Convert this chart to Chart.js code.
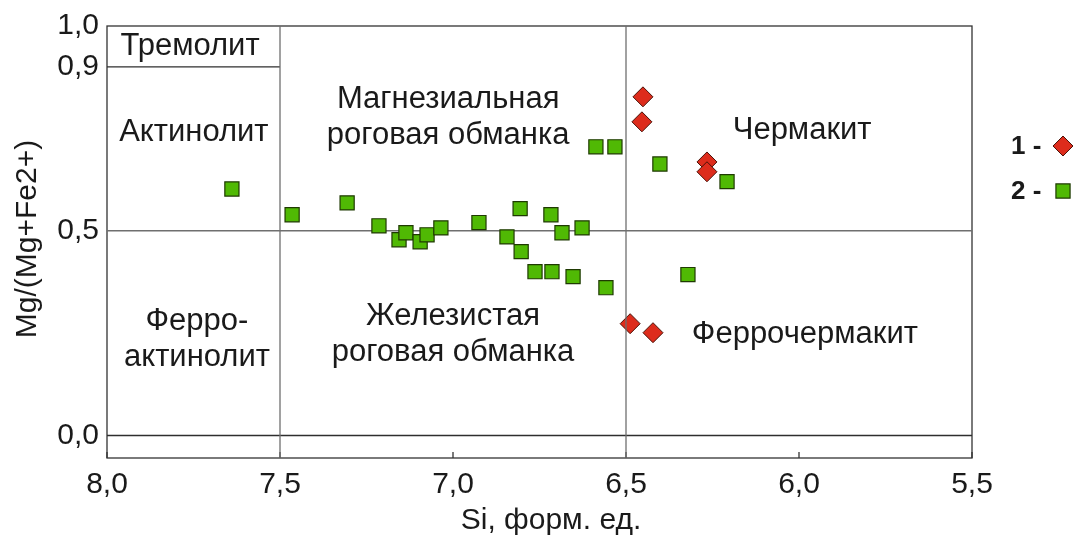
<!DOCTYPE html>
<html>
<head>
<meta charset="utf-8">
<script src="https://cdn.jsdelivr.net/npm/chart.js@4/dist/chart.umd.min.js"></script>
<style>
  html, body { margin: 0; padding: 0; background: #fff; }
  canvas { display: block; }
</style>
</head>
<body>
<canvas id="chart" width="1077" height="536"></canvas>
<script>
// series 1 (red diamonds)
const s1Si = [6.451, 6.454, 6.266, 6.266, 6.488, 6.422];
const s1Mg = [0.827, 0.766, 0.668, 0.644, 0.273, 0.251];

// series 2 (green squares)
const s2Si = [7.639, 7.465, 7.306, 7.214, 7.156, 7.136, 7.095, 7.075, 7.035, 6.925,
              6.844, 6.806, 6.803, 6.763, 6.717, 6.714, 6.685, 6.653, 6.627, 6.587,
              6.558, 6.532, 6.402, 6.321, 6.208];
const s2Mg = [0.602, 0.539, 0.568, 0.512, 0.478, 0.495, 0.473, 0.490, 0.507, 0.520,
              0.485, 0.554, 0.449, 0.400, 0.539, 0.400, 0.495, 0.388, 0.507, 0.705,
              0.361, 0.705, 0.663, 0.393, 0.620];

const xTicks = [8.0, 7.5, 7.0, 6.5, 6.0, 5.5];
const yTicks = [0.0, 0.5, 0.9, 1.0];
const X_MIN = 5.5, X_MAX = 8.0;
const Y_MIN = -0.055, Y_MAX = 1.0;

// field boundaries
const hLines = [
  [[8.0, 0.9], [7.5, 0.9]],
  [[8.0, 0.5], [5.5, 0.5]],
  [[8.0, 0.0], [5.5, 0.0]]
];
const vLines = [
  [[7.5, Y_MIN], [7.5, Y_MAX]],
  [[6.5, Y_MIN], [6.5, Y_MAX]]
];

// field names, anchored at Si / Mg# values
const fieldNames = [
  { x: 7.760, y: 0.949, lines: ['Тремолит'] },
  { x: 7.749, y: 0.741, lines: ['Актинолит'] },
  { x: 7.014, y: 0.776, lines: ['Магнезиальная', 'роговая обманка'] },
  { x: 5.991, y: 0.746, lines: ['Чермакит'] },
  { x: 7.740, y: 0.235, lines: ['Ферро-', 'актинолит'] },
  { x: 7.000, y: 0.246, lines: ['Железистая', 'роговая обманка'] },
  { x: 5.983, y: 0.246, lines: ['Феррочермакит'] }
];

const xTitle = 'Si, форм. ед.';
const yTitle = 'Mg/(Mg+Fe2+)';

const FONT = "'Liberation Sans', Arial, Helvetica, sans-serif";
const TEXT = '#1a1a1a';
const fmt = v => Number(v).toFixed(1).replace('.', ',');
const toPts = (xs, ys) => xs.map((x, i) => ({ x, y: ys[i] }));

const RED = { bg: '#dd2c1c', border: '#4a1208' };
const GREEN = { bg: '#50b904', border: '#1f3a02' };

const datasets = [];
vLines.forEach(l => datasets.push({
  data: l.map(p => ({ x: p[0], y: p[1] })), showLine: true, pointRadius: 0,
  borderColor: '#6f6f6f', borderWidth: 1.3, order: 0
}));
datasets.push({
  label: '1', data: toPts(s1Si, s1Mg), pointStyle: 'rectRot', pointRadius: 10,
  backgroundColor: RED.bg, borderColor: RED.border, borderWidth: 1, order: 1
});
datasets.push({
  label: '2', data: toPts(s2Si, s2Mg), pointStyle: 'rect', pointRadius: 10,
  backgroundColor: GREEN.bg, borderColor: GREEN.border, borderWidth: 1.2, order: 2
});
hLines.forEach((l, i) => datasets.push({
  data: l.map(p => ({ x: p[0], y: p[1] })), showLine: true, pointRadius: 0,
  borderColor: i === 1 ? '#6f6f6f' : '#2e2e2e', borderWidth: 1.3, order: 3
}));

const framePlugin = {
  id: 'frame',
  beforeDatasetsDraw(chart) {
    const { ctx, chartArea: a, scales } = chart;
    ctx.save();
    ctx.strokeStyle = '#333';
    ctx.lineWidth = 1.3;
    ctx.strokeRect(a.left, a.top, a.right - a.left, a.bottom - a.top);
    xTicks.forEach(v => {
      const px = scales.x.getPixelForValue(v);
      ctx.beginPath();
      ctx.moveTo(px, a.bottom);
      ctx.lineTo(px, a.bottom - 6);
      ctx.stroke();
    });
    // field names
    ctx.fillStyle = TEXT;
    ctx.font = '31px ' + FONT;
    ctx.textAlign = 'center';
    ctx.textBaseline = 'middle';
    fieldNames.forEach(f => {
      const cx = scales.x.getPixelForValue(f.x);
      const cy = scales.y.getPixelForValue(f.y);
      const lh = 36;
      const y0 = cy - (f.lines.length - 1) * lh / 2;
      f.lines.forEach((t, i) => ctx.fillText(t, cx, y0 + i * lh));
    });
    // axis titles
    ctx.font = '30px ' + FONT;
    ctx.fillText(xTitle, 551, 521);
    ctx.translate(28, 239);
    ctx.rotate(-Math.PI / 2);
    ctx.fillText(yTitle, 0, 0);
    ctx.restore();
  }
};

const legendPlugin = {
  id: 'sideLegend',
  afterDraw(chart) {
    const { ctx } = chart;
    const items = [
      { text: '1 -', ds: chart.data.datasets.find(d => d.label === '1'), y: 146 },
      { text: '2 -', ds: chart.data.datasets.find(d => d.label === '2'), y: 191 }
    ];
    ctx.save();
    items.forEach(it => {
      ctx.fillStyle = TEXT;
      ctx.font = 'bold 26px ' + FONT;
      ctx.textAlign = 'left';
      ctx.textBaseline = 'middle';
      ctx.fillText(it.text, 1011, it.y + 1);
      ctx.fillStyle = it.ds.backgroundColor;
      ctx.strokeStyle = it.ds.borderColor;
      ctx.lineWidth = it.ds.borderWidth;
      Chart.helpers.drawPoint(ctx, {
        pointStyle: it.ds.pointStyle, radius: it.ds.pointRadius,
        borderWidth: it.ds.borderWidth, rotation: 0
      }, 1063, it.y);
    });
    ctx.restore();
  }
};

new Chart(document.getElementById('chart'), {
  type: 'scatter',
  data: { datasets },
  options: {
    responsive: false,
    animation: false,
    layout: { padding: { top: 25, right: 105, left: 0, bottom: 0 } },
    plugins: { legend: { display: false }, tooltip: { enabled: false } },
    scales: {
      x: {
        type: 'linear', reverse: true, min: X_MIN, max: X_MAX,
        afterBuildTicks: s => { s.ticks = xTicks.map(v => ({ value: v })); },
        afterFit: s => { s.height = 78; },
        grid: { display: false, drawTicks: false },
        border: { display: false },
        ticks: { callback: fmt, font: { size: 30, family: FONT }, color: TEXT, padding: 9, maxRotation: 0, autoSkip: false }
      },
      y: {
        type: 'linear', min: Y_MIN, max: Y_MAX,
        afterBuildTicks: s => { s.ticks = yTicks.map(v => ({ value: v })); },
        afterFit: s => { s.width = 107; },
        grid: { display: false, drawTicks: false },
        border: { display: false },
        ticks: { callback: fmt, font: { size: 30, family: FONT }, color: TEXT, padding: 8, autoSkip: false }
      }
    }
  },
  plugins: [framePlugin, legendPlugin]
});
</script>
</body>
</html>
